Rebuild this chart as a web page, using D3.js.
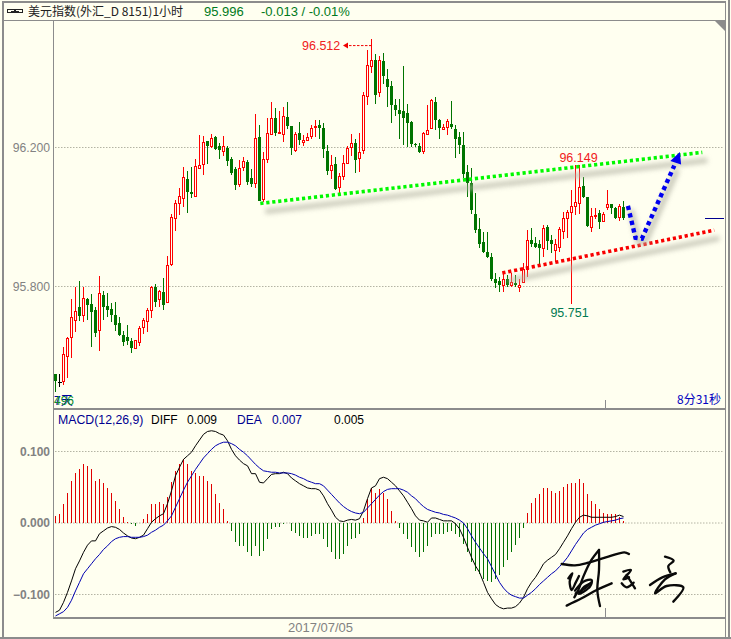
<!DOCTYPE html>
<html><head><meta charset="utf-8">
<script src="https://cdn.jsdelivr.net/npm/d3@7/dist/d3.min.js"></script>
<style>html,body{margin:0;padding:0;background:#fffff0;overflow:hidden}svg{display:block}text{font-family:"Liberation Sans",sans-serif}</style>
</head><body><svg id="c" width="731" height="639"></svg>
<script>
const open=[95.547,95.525,95.527,95.599,95.654,95.705,95.740,95.719,95.764,95.749,
95.732,95.674,95.775,95.743,95.735,95.717,95.694,95.660,95.654,95.644,
95.623,95.639,95.683,95.700,95.732,95.798,95.765,95.783,95.755,95.865,
95.998,96.041,96.055,96.110,96.071,96.061,96.141,96.153,96.220,96.204,
96.231,96.205,96.189,96.199,96.168,96.137,96.095,96.143,96.159,96.111,
96.098,96.229,96.053,96.167,96.238,96.286,96.242,96.239,96.289,96.261,
96.194,96.241,96.216,96.221,96.233,96.261,96.264,96.255,96.191,96.135,
96.152,96.087,96.118,96.156,96.202,96.212,96.170,96.193,96.349,96.435,
96.453,96.359,96.450,96.398,96.377,96.321,96.307,96.304,96.298,96.272,
96.211,96.203,96.190,96.239,96.256,96.332,96.278,96.252,96.259,96.268,
96.254,96.231,96.208,96.129,96.099,96.010,95.965,95.927,95.898,95.885,
95.822,95.816,95.804,95.822,95.805,95.809,95.800,95.812,95.850,95.933,
95.924,95.921,95.912,95.971,95.934,95.904,95.914,95.960,95.996,96.015,
96.032,96.039,96.090,96.058,95.972,96.006,96.011,95.989,96.029,96.036,
96.026,95.999,96.030];
const high=[95.547,95.549,95.627,95.656,95.765,95.799,95.816,95.799,95.768,95.777,
95.740,95.829,95.787,95.781,95.752,95.755,95.713,95.672,95.689,95.651,
95.646,95.687,95.710,95.737,95.801,95.807,95.790,95.824,95.887,96.010,
96.048,96.084,96.145,96.131,96.145,96.168,96.236,96.234,96.220,96.239,
96.234,96.212,96.234,96.203,96.172,96.143,96.163,96.174,96.165,96.139,
96.297,96.265,96.187,96.286,96.332,96.314,96.304,96.316,96.332,96.262,
96.244,96.273,96.235,96.242,96.266,96.278,96.278,96.271,96.206,96.177,
96.173,96.128,96.177,96.203,96.240,96.225,96.242,96.361,96.482,96.512,
96.469,96.464,96.472,96.426,96.390,96.340,96.340,96.434,96.326,96.276,
96.213,96.213,96.246,96.321,96.340,96.345,96.283,96.268,96.283,96.335,
96.264,96.246,96.244,96.151,96.142,96.068,95.996,95.957,95.957,95.895,
95.838,95.828,95.838,95.833,95.838,95.833,95.822,95.867,95.962,95.967,
95.943,95.935,95.978,95.977,95.948,95.938,95.972,96.015,96.020,96.079,
96.149,96.149,96.115,96.058,96.027,96.026,96.020,96.015,96.079,96.037,
96.029,96.037,96.045];
const low=[95.496,95.511,95.517,95.538,95.593,95.670,95.702,95.699,95.704,95.627,
95.654,95.613,95.704,95.711,95.697,95.673,95.658,95.629,95.633,95.610,
95.621,95.630,95.662,95.670,95.708,95.740,95.742,95.731,95.754,95.860,
95.959,96.006,96.029,96.012,96.054,96.057,96.138,96.120,96.152,96.199,
96.194,96.166,96.175,96.146,96.120,96.077,96.086,96.132,96.091,96.087,
96.084,96.047,96.044,96.156,96.235,96.232,96.240,96.216,96.254,96.177,
96.187,96.206,96.203,96.219,96.225,96.230,96.225,96.170,96.120,96.109,
96.077,96.063,96.106,96.152,96.175,96.127,96.130,96.180,96.321,96.414,
96.324,96.345,96.383,96.316,96.270,96.290,96.225,96.206,96.201,96.201,
96.201,96.185,96.180,96.235,96.254,96.249,96.225,96.249,96.235,96.254,
96.171,96.182,96.111,96.058,96.010,95.953,95.910,95.895,95.881,95.817,
95.795,95.785,95.785,95.798,95.798,95.800,95.785,95.811,95.828,95.914,
95.910,95.862,95.886,95.905,95.895,95.871,95.900,95.938,95.941,95.751,
96.005,96.010,96.056,95.970,95.956,95.993,95.965,95.986,96.020,96.008,
95.994,95.989,95.991];
const close=[95.527,95.525,95.606,95.652,95.711,95.729,95.716,95.766,95.748,95.728,
95.665,95.780,95.742,95.731,95.719,95.689,95.659,95.639,95.642,95.624,
95.645,95.680,95.703,95.732,95.800,95.756,95.786,95.748,95.863,96.001,
96.041,96.061,96.115,96.072,96.066,96.147,96.151,96.216,96.204,96.227,
96.196,96.192,96.205,96.160,96.128,96.092,96.142,96.162,96.100,96.094,
96.226,96.047,96.166,96.243,96.286,96.243,96.245,96.291,96.261,96.199,
96.238,96.221,96.223,96.231,96.257,96.262,96.256,96.196,96.133,96.151,
96.080,96.117,96.154,96.199,96.212,96.165,96.188,96.352,96.438,96.453,
96.352,96.453,96.405,96.375,96.322,96.307,96.295,96.286,96.271,96.211,
96.207,96.187,96.243,96.251,96.337,96.278,96.255,96.259,96.277,96.258,
96.224,96.206,96.123,96.098,96.020,95.962,95.922,95.898,95.886,95.822,
95.811,95.803,95.822,95.804,95.812,95.805,95.804,95.850,95.933,95.922,
95.914,95.912,95.967,95.932,95.921,95.921,95.965,95.998,96.013,96.032,
96.042,96.085,96.058,95.974,96.003,96.007,95.986,96.009,96.036,96.026,
95.998,96.032,95.996];
const macdHist=[.010,.013,.027,.042,.059,.070,.075,.082,.080,.075,
.059,.062,.056,.049,.042,.031,.019,.009,.002,-.002,
-.004,0,.006,.013,.026,.027,.030,.026,.037,.058,
.073,.082,.089,.083,.073,.070,.066,.066,.059,.054,
.041,.028,.019,.003,-.011,-.027,-.032,-.032,-.040,-.046,
-.032,-.046,-.039,-.023,-.009,-.005,-.005,-.001,0,-.011,
-.014,-.018,-.021,-.021,-.018,-.016,-.015,-.023,-.034,-.040,
-.050,-.050,-.044,-.032,-.022,-.021,-.016,.007,.033,.049,
.042,.048,.042,.033,.017,.003,-.007,-.015,-.022,-.034,
-.041,-.047,-.041,-.032,-.019,-.015,-.016,-.015,-.012,-.011,
-.015,-.019,-.030,-.040,-.054,-.067,-.072,-.078,-.081,-.082,
-.078,-.073,-.062,-.052,-.041,-.031,-.021,-.007,.014,.028,
.035,.041,.049,.049,.045,.042,.045,.051,.054,.056,
.056,.061,.056,.041,.031,.026,.019,.014,.013,.013,
.012,.009,.003];
const dea=[-.130,-.127,-.124,-.118,-.108,-.095,-.083,-.071,-.064,-.057,
-.050,-.044,-.037,-.032,-.026,-.022,-.020,-.019,-.019,-.020,
-.020,-.020,-.019,-.017,-.013,-.010,-.006,-.003,.003,.010,
.022,.034,.046,.057,.066,.075,.083,.091,.097,.103,
.108,.111,.113,.113,.111,.108,.103,.099,.094,.088,
.082,.077,.073,.072,.071,.071,.070,.070,.070,.069,
.067,.064,.062,.059,.057,.055,.055,.052,.046,.040,
.034,.028,.023,.019,.016,.014,.013,.015,.021,.027,
.033,.039,.044,.047,.048,.048,.048,.046,.043,.038,
.034,.028,.023,.019,.017,.015,.014,.012,.011,.009,
.007,.004,.000,-.008,-.018,-.027,-.035,-.043,-.050,-.061,
-.072,-.083,-.091,-.097,-.101,-.103,-.105,-.105,-.101,-.097,
-.092,-.086,-.081,-.076,-.071,-.067,-.061,-.055,-.048,-.039,
-.030,-.022,-.014,-.009,-.006,-.003,-.001,.001,.002,.003,
.004,.006,.007];
const diff=[-.125,-.122,-.111,-.097,-.081,-.064,-.053,-.041,-.031,-.025,
-.025,-.015,-.011,-.007,-.005,-.006,-.009,-.014,-.018,-.021,
-.022,-.020,-.017,-.008,.001,.006,.010,.013,.027,.045,
.066,.078,.089,.094,.099,.108,.116,.124,.128,.129,
.128,.125,.123,.115,.103,.094,.088,.083,.080,.069,
.069,.057,.056,.062,.068,.069,.069,.071,.069,.063,
.059,.055,.052,.049,.048,.048,.046,.038,.027,.018,
.008,.003,.002,.004,.005,.004,.006,.017,.034,.049,
.052,.062,.064,.062,.057,.052,.045,.038,.029,.020,
.010,.004,.003,.001,.007,.007,.005,.003,.003,.003,
-.001,-.008,-.020,-.034,-.048,-.060,-.069,-.083,-.097,-.106,
-.114,-.118,-.120,-.119,-.119,-.117,-.112,-.104,-.092,-.083,
-.076,-.067,-.057,-.052,-.048,-.044,-.036,-.027,-.018,-.008,
.001,.008,.011,.010,.008,.008,.008,.008,.008,.008,
.009,.011,.009];
const priceTicks=[96.2,95.8];
const macdTicks=[0.1,0,-0.1];
const peakHigh=96.512, midHigh=96.149, midLow=95.751, lastPrice=95.996;
const greenTrendIdx=[51.2,161.7], greenTrendPx=[96.039,96.186];
const redTrendIdx=[111.7,164.7], redTrendPx=[95.839,95.962];
const blueIdx=[143.1,145.0,146.6,154.7], bluePx=[96.032,95.940,95.938,96.148];
const arrowIdx=[156.1,153.7,156.4], arrowPx=[96.187,96.161,96.151];

const svg=d3.select('#c');
const CJK='"Noto Sans CJK SC","Liberation Sans",sans-serif';
const bg='#fffff0',frame='#8c8c8c',gridc='#b4b4a4',axisTxt='#828282',RED='#ff0000',GRN='#007400',BLU='#000090';
const x=d3.scaleLinear().domain([0,142]).range([55.5,623.5]);
const y=d3.scaleLinear().domain([95.8,96.2]).range([286.5,147.5]);
const m=d3.scaleLinear().domain([-.1,.1]).range([594.5,451.5]);
svg.append('rect').attr('width',731).attr('height',639).attr('fill',bg);

const f=svg.append('defs').append('filter').attr('id','sh').attr('filterUnits','userSpaceOnUse').attr('x',0).attr('y',0).attr('width',731).attr('height',639);
f.append('feGaussianBlur').attr('stdDeviation',2.6);

function axis(scale,ticks,fmt,weight,size){
  const g=svg.append('g').attr('transform','translate(53,0)').call(d3.axisLeft(scale).tickValues(ticks).tickFormat(fmt).tickSize(0).tickPadding(3));
  g.select('.domain').remove();
  g.selectAll('text').attr('fill',axisTxt).attr('font-size',size).attr('font-weight',weight).style('font-family','"Liberation Sans",sans-serif');
  svg.append('g').selectAll('line').data(ticks).join('line').attr('x1',55).attr('x2',724).attr('y1',d=>scale(d)).attr('y2',d=>scale(d)).attr('stroke',gridc).attr('stroke-dasharray','1.5 1.5');
}
axis(y,priceTicks,d3.format('.3f'),'normal',12.2);
axis(m,macdTicks,d3.format('.3f'),'bold',12);

const cg=svg.append('g').attr('shape-rendering','crispEdges');
open.forEach((o,i)=>{
  const c=close[i],h=high[i],l=low[i],X=x(i);
  const col=c>o?RED:c<o?GRN:'#000';
  const top=Math.round(y(Math.max(o,c)))+.5,bot=Math.round(y(Math.min(o,c)))+.5;
  cg.append('line').attr('x1',X).attr('x2',X).attr('y1',y(h)).attr('y2',y(l)).attr('stroke',col);
  if(c>o) cg.append('rect').attr('x',X-1).attr('y',top).attr('width',2).attr('height',Math.max(1,bot-top)).attr('fill',bg).attr('stroke',col);
  else if(c<o) cg.append('rect').attr('x',X-1.5).attr('y',top-.5).attr('width',3).attr('height',Math.max(1,bot-top)).attr('fill',col);
  else cg.append('line').attr('x1',X-2).attr('x2',X+2).attr('y1',top).attr('y2',top).attr('stroke',col);
});

const hg=svg.append('g').attr('shape-rendering','crispEdges');
macdHist.forEach((v,i)=>{ if(v!==0) hg.append('line').attr('x1',x(i)).attr('x2',x(i)).attr('y1',m(0)).attr('y2',m(v)).attr('stroke',v>0?'#e00000':'#007000'); });
const ln=d3.line().x((d,i)=>x(i)).y(d=>m(d));
svg.append('path').attr('d',ln(diff)).attr('fill','none').attr('stroke','#000').attr('stroke-width',1);
svg.append('path').attr('d',ln(dea)).attr('fill','none').attr('stroke','#0000b0').attr('stroke-width',1);

function trend(ix,px,col,w,dash,sx,sy){
  const pts=ix.map((v,i)=>[x(v),y(px[i])]);
  const l=d3.line();
  svg.append('path').attr('d',l(pts)).attr('transform',`translate(${sx},${sy})`).attr('fill','none').attr('stroke','#b4b4a4').attr('stroke-width',w+1.5).attr('opacity',.7).attr('filter','url(#sh)');
  svg.append('path').attr('d',l(pts)).attr('fill','none').attr('stroke',col).attr('stroke-width',w).attr('stroke-dasharray',dash);
}
trend(greenTrendIdx,greenTrendPx,'#00f800',3.6,'3.2 2.8',5,8);
trend(redTrendIdx,redTrendPx,'#f80000',3.6,'3.2 2.8',5,8);
trend(blueIdx,bluePx,'#0000f0',4.4,'4.2 3.5',3,4);
const ah=arrowIdx.map((v,i)=>[x(v),y(arrowPx[i])]);
svg.append('polygon').attr('points',ah.join(' ')).attr('fill','#0000f0');

function t(X,Y,s,col,size,anchor,font){const e=svg.append('text').attr('x',X).attr('y',Y).text(s).attr('fill',col).attr('font-size',size||12).attr('text-anchor',anchor||'start');if(font)e.style('font-family',font);return e;}
t(302,50,peakHigh.toFixed(3),'#f02020',12.5);
svg.append('line').attr('x1',x(79)).attr('x2',346).attr('y1',y(peakHigh)+6.5).attr('y2',y(peakHigh)+6.5).attr('stroke','#f00000').attr('stroke-dasharray','2.5 1.5');
svg.append('path').attr('d',d3.line()([[343,y(peakHigh)+6.5],[348,y(peakHigh)+3.5],[348,y(peakHigh)+9.5]])).attr('fill','#f00000');
t(x(130)+3,y(midHigh)-3,midHigh.toFixed(3),'#f02020',12.5,'middle');
t(x(129)-2,y(midLow)+13,midLow.toFixed(3),'#007a50',12.5,'middle');
svg.append('line').attr('x1',705).attr('x2',724).attr('y1',y(lastPrice)).attr('y2',y(lastPrice)).attr('stroke',BLU).attr('shape-rendering','crispEdges');

const fr=svg.append('g').attr('stroke',frame).attr('fill','none').attr('shape-rendering','crispEdges');
[[2.5,2,2.5,638,2],[0,638,731,638,1.5],[2,2,726,2,1.5],[2,20.5,726,20.5,1.5],[53.5,20,53.5,618,1.5],[53,409,725,409,1.5],[53,618,725,618,1.5],[725.5,2,725.5,638,1.5],[729,0,729,639,1.5],[605.5,400,605.5,409,1],[605.5,608,605.5,618,1]].forEach(a=>fr.append('line').attr('x1',a[0]).attr('y1',a[1]).attr('x2',a[2]).attr('y2',a[3]).attr('stroke-width',a[4]));
svg.append('polygon').attr('points','715,21 725,21 725,31').attr('fill',frame);

const ic=svg.append('g').attr('fill','none').attr('stroke','#222').attr('stroke-width',1).attr('shape-rendering','crispEdges');
ic.append('rect').attr('x',7.5).attr('y',9.5).attr('width',7).attr('height',3);
ic.append('rect').attr('x',15.5).attr('y',9.5).attr('width',7).attr('height',3);
ic.append('line').attr('x1',11).attr('x2',19).attr('y1',11).attr('y2',11);
t(28,16,'美元指数(外汇_D 8151)1小时','#222',12,'start',CJK);
t(204,16,'95.996','#007a20',13);
t(261,16,'-0.013 / -0.01%','#007a20',13);

t(58,423.5,'MACD(12,26,9)','#000090',12.3);
t(151,423.5,'DIFF','#000',12);
t(187,423.5,'0.009','#000',12);
t(237,423.5,'DEA','#000090',12);
t(272,423.5,'0.007','#000090',12);
t(334,423.5,'0.005','#000',12);

t(54,405,'7天','#0000a0',12,'start',CJK);
t(54,405,'496','#0a8a30',12);
t(677,404,'8分31秒','#0000c0',12,'start',CJK);
t(288,632,'2017/07/05',axisTxt,13);

// signature (hand-drawn ornament, in zoom-space units)
const sig=svg.append('g').attr('transform','translate(555,540) scale(.3333)').attr('fill','none').attr('stroke','#0a0a0a').attr('stroke-width',7).attr('stroke-linecap','round').attr('stroke-linejoin','round');
const sl=d3.line().curve(d3.curveCatmullRom);
[
[[20,72],[60,76],[100,68],[160,50],[208,37],[222,42]],
[[132,30],[108,62],[85,110],[70,150],[58,172]],
[[132,30],[132,90],[127,150],[135,198]],
[[35,197],[80,175],[125,150],[170,130]],
[[40,115],[52,100],[44,125],[50,150],[62,128],[72,108]],
[[60,152],[85,125],[110,120],[105,140],[72,162],[88,140],[102,132]],
[[62,160],[90,145],[108,128]],
[[205,95],[228,90],[205,118],[222,112]],
[[215,105],[240,145]],
[[200,130],[215,142],[236,128]],
[[330,50],[356,62],[340,78],[346,97]],
[[285,135],[322,112],[362,100]],
[[362,100],[330,118],[300,160],[335,138],[385,142],[355,185]]
].forEach(p=>sig.append('path').attr('d',sl(p)));
</script></body></html>
